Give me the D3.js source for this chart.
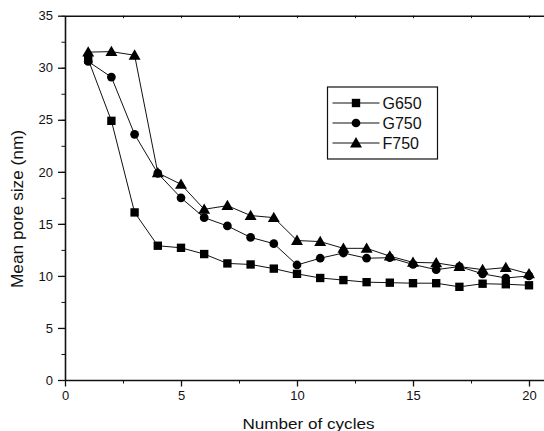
<!DOCTYPE html>
<html>
<head>
<meta charset="utf-8">
<script src="https://cdn.jsdelivr.net/npm/d3@7"></script>
<style>
  body { margin: 0; background: #fff; }
  svg { display: block; font-family: "Liberation Sans", Arial, sans-serif; }
  .axis path, .axis line { stroke: #111; }
  .axis text { font-size: 13px; fill: #111; }
</style>
</head>
<body>
<div class="chart"></div>
<script>
const cycles = [1, 2, 3, 4, 5, 6, 7, 8, 9, 10, 11, 12, 13, 14, 15, 16, 17, 18, 19, 20];
const g650 = [30.8, 24.9, 16.1, 12.9, 12.7, 12.1, 11.2, 11.1, 10.7, 10.2, 9.8, 9.6, 9.4, 9.35, 9.3, 9.3, 8.95, 9.25, 9.2, 9.1];
const g750 = [30.6, 29.1, 23.6, 19.85, 17.5, 15.6, 14.8, 13.7, 13.1, 11.05, 11.7, 12.2, 11.7, 11.75, 11.1, 10.6, 10.9, 10.2, 9.8, 10.0];
const f750 = [31.5, 31.55, 31.2, 19.9, 18.8, 16.4, 16.75, 15.8, 15.6, 13.4, 13.3, 12.65, 12.65, 11.9, 11.3, 11.25, 10.9, 10.6, 10.8, 10.2];
const seriesNames = ['G650', 'G750', 'F750'];
const xTicks = [0, 5, 10, 15, 20];
const yTicks = [0, 5, 10, 15, 20, 25, 30, 35];

const w = 544;
const h = 431;
const xScale = d3.scaleLinear().domain([0, 20.7]).range([65, 65 + 23.2 * 20.7]);
const yScale = d3.scaleLinear().domain([0, 35]).range([380, 15.7]);

const svg = d3.select('.chart')
  .append('svg')
  .attr('width', w)
  .attr('height', h);

const minorX = d3.range(0, 20.7, 2.5);
const minorY = d3.range(0, 35.1, 2.5);

// minor ticks
svg.append('g')
  .attr('class', 'axis')
  .attr('transform', `translate(0, ${yScale(0)})`)
  .call(d3.axisBottom(xScale).tickValues(minorX).tickSize(3.5).tickFormat(''))
  .call((g) => g.select('.domain').remove());
svg.append('g')
  .attr('class', 'axis')
  .attr('transform', `translate(${xScale(0)}, 0)`)
  .call(d3.axisLeft(yScale).tickValues(minorY).tickSize(3.5).tickFormat(''))
  .call((g) => g.select('.domain').remove());

// top border with small inner ticks
svg.append('g')
  .attr('class', 'axis')
  .attr('transform', `translate(0, ${yScale(35)})`)
  .call(d3.axisBottom(xScale).tickValues(minorX).tickSize(2.5).tickSizeOuter(0).tickFormat(''))
  .call((g) => g.select('.domain').attr('stroke-width', 1.6));

// main axes
svg.append('g')
  .attr('class', 'axis')
  .attr('transform', `translate(0, ${yScale(0)})`)
  .call(d3.axisBottom(xScale).tickValues(xTicks).tickSize(6.5).tickSizeOuter(0).tickPadding(4))
  .call((g) => g.select('.domain').attr('stroke-width', 1.6))
  .call((g) => g.selectAll('.tick line').attr('stroke-width', 1.3));

svg.append('g')
  .attr('class', 'axis')
  .attr('transform', `translate(${xScale(0)}, 0)`)
  .call(d3.axisLeft(yScale).tickValues(yTicks).tickSize(7).tickSizeOuter(0).tickPadding(5))
  .call((g) => g.select('.domain').attr('stroke-width', 1.6))
  .call((g) => g.selectAll('.tick line').attr('stroke-width', 1.3));

svg.append('text')
  .attr('x', 308.5)
  .attr('y', 429)
  .attr('text-anchor', 'middle')
  .attr('textLength', 132)
  .attr('lengthAdjust', 'spacingAndGlyphs')
  .style('font-size', '15.5px')
  .style('fill', '#111')
  .text('Number of cycles');

svg.append('text')
  .attr('transform', 'translate(23, 209) rotate(-90)')
  .attr('text-anchor', 'middle')
  .attr('textLength', 158)
  .attr('lengthAdjust', 'spacingAndGlyphs')
  .style('font-size', '16px')
  .style('fill', '#111')
  .text('Mean pore size (nm)');

const symbols = {
  G650: d3.symbol().type(d3.symbolSquare).size(70),
  G750: d3.symbol().type(d3.symbolCircle).size(60),
  F750: d3.symbol().type(d3.symbolTriangle).size(62)
};
const values = { G650: g650, G750: g750, F750: f750 };
const drawOrder = ['F750', 'G650', 'G750'];

const line = d3.line()
  .x((d) => xScale(d.x))
  .y((d) => yScale(d.y));

drawOrder.forEach((name) => {
  const pts = cycles.map((c, i) => ({ x: c, y: values[name][i] }));
  svg.append('path')
    .datum(pts)
    .attr('fill', 'none')
    .attr('stroke', '#111')
    .attr('stroke-width', 1)
    .attr('d', line);
});

drawOrder.forEach((name) => {
  const pts = cycles.map((c, i) => ({ x: c, y: values[name][i] }));
  svg.append('g')
    .selectAll('path')
    .data(pts)
    .enter()
    .append('path')
    .attr('transform', (d) => `translate(${xScale(d.x)}, ${yScale(d.y) + (name === 'F750' ? 1 : 0)})`)
    .attr('d', symbols[name]())
    .attr('fill', '#000');
});

// legend
const legend = svg.append('g')
  .attr('class', 'legend')
  .attr('transform', 'translate(327.5, 87)');

legend.append('rect')
  .attr('width', 110)
  .attr('height', 72)
  .attr('fill', '#fff')
  .attr('stroke', '#111')
  .attr('stroke-width', 1.2);

seriesNames.forEach((name, i) => {
  const row = legend.append('g').attr('transform', `translate(0, ${16 + i * 20})`);
  row.append('line')
    .attr('x1', 5)
    .attr('x2', 52)
    .attr('stroke', '#111')
    .attr('stroke-width', 1);
  row.append('path')
    .attr('transform', `translate(28.5, ${name === 'F750' ? 1 : 0})`)
    .attr('d', symbols[name]())
    .attr('fill', '#000');
  row.append('text')
    .attr('x', 55)
    .attr('y', 6)
    .style('font-size', '16px')
    .style('fill', '#111')
    .text(name);
});
</script>
</body>
</html>
